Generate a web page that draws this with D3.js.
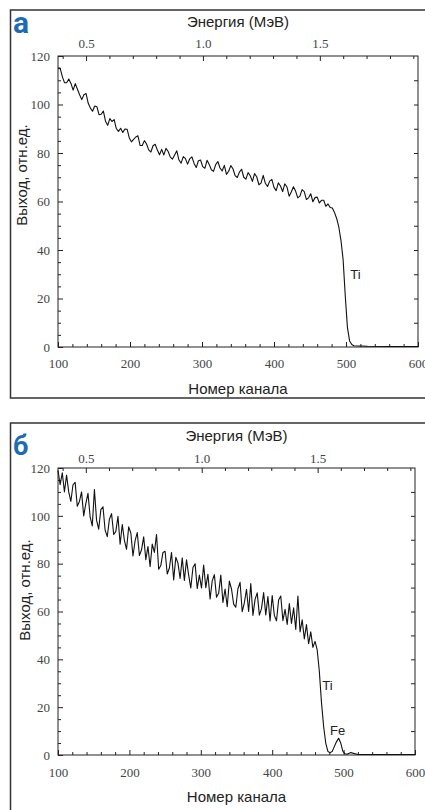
<!DOCTYPE html>
<html>
<head>
<meta charset="utf-8">
<script src="https://cdn.jsdelivr.net/npm/d3@7"></script>
<style>
	body { margin: 0; background: #fff; }
	svg { display: block; }
	.tick text { font-family: "Liberation Serif", serif; font-size: 13px; fill: #444; }
	.tick line { stroke: #222; }
	.title { font-family: "Liberation Sans", Arial, sans-serif; font-size: 15px; fill: #222; }
</style>
</head>
<body>
<svg id="chart" width="425" height="810"></svg>
<script>
// channel axis: yields are read every 3 channels starting at channel 100
const channelStart = 100;
const channelStep = 3;

// panel а: Ti film
const yieldA = [
	115, 115, 111.5, 109, 109, 110.5, 108.7, 105.9, 108.6, 106.3,
	104, 102, 104, 104.5, 100.5, 98.5, 97.2, 99.4, 99.1, 95.8,
	96, 97.3, 93.1, 91.4, 94.2, 93, 93.8, 90.1, 88.9, 90.2,
	88.5, 89.9, 89.8, 86.2, 84.6, 85.6, 86.6, 87.1, 83.1, 83.1,
	85.1, 83.7, 81.3, 80.4, 83, 83.6, 81.2, 79.3, 81.5, 79.2,
	81.9, 80.6, 78.3, 77.5, 79.2, 80.9, 77.1, 75.8, 78.5, 77.7,
	75.4, 77.6, 78.4, 75.7, 74, 76.8, 77.1, 74.4, 73.7, 77,
	75.3, 73.1, 72.4, 75.2, 76.5, 73.8, 72.6, 74.9, 71.2, 72.5,
	74.8, 73.5, 70.7, 69.9, 72.1, 73.3, 70, 69.2, 71.9, 70.6,
	68.3, 71.5, 70.2, 66.9, 67.6, 70.8, 67.5, 66.2, 68.4, 69.1,
	65.8, 64.5, 67.7, 66.4, 64.1, 67.3, 66, 62.2, 63.9, 66.1,
	64.3, 61.5, 62.2, 64.9, 64.1, 60.8, 61.5, 63.2, 59.9, 61.6,
	61.8, 59.4, 60.5, 60.5, 58, 59, 57.5, 57.3, 55.5, 53,
	49.5, 44, 36, 21, 8, 2.5, 1, 0.5
];
const tailChannelsA = [530, 560, 600];
const tailA = [0.3, 0.2, 0.2];

// panel б: Ti film with Fe
const yieldB = [
	119, 113, 118, 110, 117, 110, 106, 113, 114, 104,
	106, 110, 100, 105.2, 109.4, 99.6, 95.8, 111, 98.2, 94.4,
	102.6, 103.8, 94, 91.3, 98.6, 100.9, 92.2, 93.5, 99.8, 88.1,
	96.4, 89.7, 86, 95.4, 92.8, 83.2, 89.6, 93, 83.4, 85.8,
	91.2, 81.7, 87.2, 78.7, 88.2, 84.7, 92.2, 77.7, 79.2, 84.7,
	85.2, 75.7, 78.2, 84.7, 73.2, 82.7, 80.2, 73.8, 82.4, 73,
	81.6, 75.2, 69.8, 78.4, 80, 69.6, 75.2, 69.8, 79.4, 70,
	75.6, 65.2, 72.8, 75.4, 66, 67.6, 75.2, 63.8, 69.4, 62,
	72.7, 69.4, 63.1, 61.8, 69.5, 72.2, 59.9, 63.6, 69.3, 60,
	71.7, 58.4, 65.1, 67.8, 58.5, 61.2, 67.9, 58.6, 66.3, 56,
	66.7, 58.4, 56.1, 64.8, 66.5, 56.2, 60.9, 54.6, 63.3, 55,
	61.5, 52.5, 66.5, 51.5, 56.5, 48.5, 54.5, 46.5, 51.5, 45,
	47.5, 44, 35, 22, 12, 5, 1.5, 1, 1.5, 3.5,
	5.5, 7, 5, 1.5, 0.5, 0.3
];
const tailChannelsB = [510, 520, 600];
const tailB = [1, 0.2, 0.2];

const channelDomain = [100, 600];
const channelMajor = [100, 200, 300, 400, 500, 600];
const channelMinor = [120, 140, 160, 180, 220, 240, 260, 280, 320, 340, 360, 380, 420, 440, 460, 480, 520, 540, 560, 580];
const yieldDomain = [0, 120];
const yieldMajor = [0, 20, 40, 60, 80, 100, 120];
const yieldMinor = [5, 10, 15, 25, 30, 35, 45, 50, 55, 65, 70, 75, 85, 90, 95, 105, 110, 115];
const yieldRight = [10, 20, 30, 40, 50, 60, 70, 80, 90, 100, 110];
const energyDomain = [0.38, 1.92];
const energyMajor = [0.5, 1.0, 1.5];
const energyMinor = [0.4, 0.6, 0.7, 0.8, 0.9, 1.1, 1.2, 1.3, 1.4, 1.6, 1.7, 1.8, 1.9];

const panels = [
	{
		letter: "а", letterSize: 30, letterY: 33,
		values: yieldA, tailCh: tailChannelsA, tail: tailA,
		frame: { top: 10, bottom: 398 },
		xRange: [58, 418], yRange: [347, 56],
		topTitleY: 27, topLabelY: 48, bottomLabelY: 368, bottomTitleY: 394,
		yTitleX: 22, yTitleY: 175,
		notes: [{ text: "Ti", ch: 506, v: 28 }]
	},
	{
		letter: "б", letterSize: 27, letterY: 455,
		values: yieldB, tailCh: tailChannelsB, tail: tailB,
		frame: { top: 423, bottom: 815 },
		xRange: [58, 415], yRange: [755, 468],
		topTitleY: 441, topLabelY: 463, bottomLabelY: 777, bottomTitleY: 802,
		yTitleX: 25, yTitleY: 590,
		notes: [{ text: "Ti", ch: 470, v: 27 }, { text: "Fe", ch: 481, v: 8.3 }]
	}
];

const svg = d3.select("#chart");

function drawPanel(p) {
	const g = svg.append("g");

	// OUTER FRAME
	g.append("path")
		.attr("d", `M426,${p.frame.top}H10.5V${p.frame.bottom}H426`)
		.attr("fill", "none")
		.attr("stroke", "#333")
		.attr("stroke-width", 1.5);

	// PANEL LETTER
	g.append("text")
		.attr("x", 13)
		.attr("y", p.letterY)
		.attr("font-family", "Roboto, 'Liberation Sans', sans-serif")
		.attr("font-weight", "bold")
		.attr("font-size", p.letterSize)
		.attr("fill", "#1d6cb3")
		.text(p.letter);

	const x = d3.scaleLinear().domain(channelDomain).range(p.xRange);
	const y = d3.scaleLinear().domain(yieldDomain).range(p.yRange);
	const e = d3.scaleLinear().domain(energyDomain).range(p.xRange);

	// BOTTOM AXIS (channel), ticks pointing inward
	const yb = p.yRange[0];
	g.append("g")
		.attr("transform", `translate(0,${yb})`)
		.call(d3.axisBottom(x).tickValues(channelMinor).tickSize(-3).tickFormat(""));
	const bottom = g.append("g")
		.attr("transform", `translate(0,${yb})`)
		.call(d3.axisBottom(x).tickValues(channelMajor).tickSize(-5).tickFormat(d3.format("d")));
	bottom.selectAll(".tick text").attr("y", null).attr("dy", null)
		.attr("transform", `translate(0,${p.bottomLabelY - yb})`);

	// TOP AXIS (energy)
	const yt = p.yRange[1];
	g.append("g")
		.attr("transform", `translate(0,${yt})`)
		.call(d3.axisTop(e).tickValues(energyMinor).tickSize(-3).tickFormat(""));
	const top = g.append("g")
		.attr("transform", `translate(0,${yt})`)
		.call(d3.axisTop(e).tickValues(energyMajor).tickSize(-5).tickFormat(d3.format(".1f")));
	top.selectAll(".tick text").attr("y", p.topLabelY - yt).attr("dy", null);

	// LEFT AXIS
	const xl = p.xRange[0];
	g.append("g")
		.attr("transform", `translate(${xl},0)`)
		.call(d3.axisLeft(y).tickValues(yieldMinor).tickSize(-3).tickFormat(""));
	g.append("g")
		.attr("transform", `translate(${xl},0)`)
		.call(d3.axisLeft(y).tickValues(yieldMajor).tickSize(-5).tickPadding(8).tickFormat(d3.format("d")));

	// RIGHT AXIS
	g.append("g")
		.attr("transform", `translate(${p.xRange[1]},0)`)
		.call(d3.axisRight(y).tickValues(yieldRight).tickSize(-4).tickFormat(""));

	g.selectAll(".domain").remove();

	// PLOT BOX
	g.append("rect")
		.attr("x", p.xRange[0])
		.attr("y", p.yRange[1])
		.attr("width", p.xRange[1] - p.xRange[0])
		.attr("height", p.yRange[0] - p.yRange[1])
		.attr("fill", "none")
		.attr("stroke", "#222")
		.attr("stroke-width", 1);

	// SPECTRUM
	const points = p.values.map((v, i) => [channelStart + i * channelStep, v])
		.concat(p.tailCh.map((c, i) => [c, p.tail[i]]));
	g.append("path")
		.datum(points)
		.attr("fill", "none")
		.attr("stroke", "#111")
		.attr("stroke-width", 1.1)
		.attr("stroke-linejoin", "round")
		.attr("d", d3.line().x(d => x(d[0])).y(d => y(d[1])));

	// ELEMENT LABELS
	p.notes.forEach(n => {
		g.append("text")
			.attr("class", "title")
			.attr("x", x(n.ch))
			.attr("y", y(n.v))
			.style("font-size", "13px")
			.text(n.text);
	});

	// AXIS TITLES
	const cx = (p.xRange[0] + p.xRange[1]) / 2;
	g.append("text").attr("class", "title")
		.attr("x", cx).attr("y", p.topTitleY)
		.attr("text-anchor", "middle")
		.text("Энергия (МэВ)");
	g.append("text").attr("class", "title")
		.attr("x", cx).attr("y", p.bottomTitleY)
		.attr("text-anchor", "middle")
		.text("Номер канала");
	g.append("text").attr("class", "title")
		.attr("transform", `translate(${p.yTitleX},${p.yTitleY}) rotate(-90)`)
		.attr("text-anchor", "middle")
		.attr("dy", "0.35em")
		.text("Выход, отн.ед.");
}

panels.forEach(drawPanel);
</script>
</body>
</html>
